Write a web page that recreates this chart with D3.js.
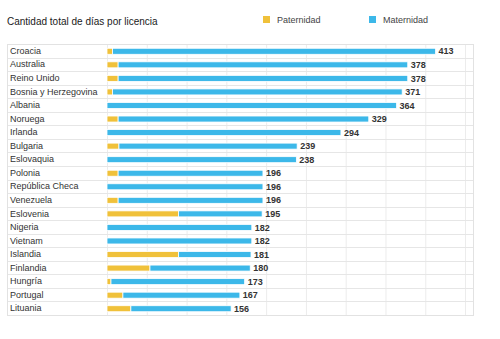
<!DOCTYPE html>
<html>
<head>
<meta charset="utf-8">
<script src="https://cdn.jsdelivr.net/npm/d3@7"></script>
<style>
  body { margin: 0; background: #fff; }
  svg { font-family: "Liberation Sans", Arial, sans-serif; }
  .grid line { stroke: #ececec; }
  .grid path { display: none; }
</style>
</head>
<body>
<div id="chart"></div>
<script>
// data
var paises = ["Croacia", "Australia", "Reino Unido", "Bosnia y Herzegovina", "Albania",
  "Noruega", "Irlanda", "Bulgaria", "Eslovaquia", "Polonia", "República Checa",
  "Venezuela", "Eslovenia", "Nigeria", "Vietnam", "Islandia", "Finlandia",
  "Hungría", "Portugal", "Lituania"]
var totales = [413, 378, 378, 371, 364, 329, 294, 239, 238, 196, 196, 196, 195, 182, 182, 181, 180, 173, 167, 156]
var paternidad = [7, 14, 14, 7, 0, 14, 0, 15, 0, 14, 0, 14, 90, 0, 0, 90, 54, 5, 20, 30]
var series = ["Paternidad", "Maternidad"]
var colores = ["#f0c13a", "#3cb8e9"]
var ticksX = [0, 50, 100, 150, 200, 250, 300, 350, 400, 450]

var W = 500, H = 339
var margin = {top: 44, right: 27, bottom: 24, left: 107}
var left0 = 7

var data = paises.map(function(p, i) {
  return {pais: p, total: totales[i], Paternidad: paternidad[i], Maternidad: totales[i] - paternidad[i]}
})

var svg = d3.select("#chart").append("svg")
  .attr("width", W)
  .attr("height", H)

var x = d3.scaleLinear()
  .domain([0, 460])
  .range([margin.left, W - margin.right])

var y = d3.scaleBand()
  .domain(paises)
  .range([margin.top, H - margin.bottom])

// vertical gridlines
svg.append("g")
  .attr("class", "grid")
  .attr("transform", "translate(0," + (H - margin.bottom) + ")")
  .call(d3.axisBottom(x)
    .tickValues(ticksX)
    .tickSize(-(H - margin.top - margin.bottom))
    .tickFormat(""))

// row lines
svg.append("g")
  .selectAll("line")
  .data(paises)
  .enter().append("line")
    .attr("x1", left0)
    .attr("x2", W - margin.right)
    .attr("y1", function(d) { return Math.round(y(d)) + 0.5 })
    .attr("y2", function(d) { return Math.round(y(d)) + 0.5 })
    .attr("stroke", "#e6e6e6")

// table border
svg.append("rect")
  .attr("x", left0 + 0.5)
  .attr("y", margin.top + 0.5)
  .attr("width", W - margin.right - left0)
  .attr("height", H - margin.top - margin.bottom)
  .attr("fill", "none")
  .attr("stroke", "#e2e2e2")

// stacked bars
var stack = d3.stack().keys(series)(data)
var barH = 6

svg.append("g")
  .selectAll("g")
  .data(stack)
  .enter().append("g")
    .attr("fill", function(d, i) { return colores[i] })
  .selectAll("rect")
  .data(function(d) { return d })
  .enter().append("rect")
    .attr("x", function(d) { return x(d[0]) })
    .attr("y", function(d) { return y(d.data.pais) + y.bandwidth() / 2 - barH / 2 + 0.5 })
    .attr("width", function(d) { return Math.max(0, x(d[1]) - x(d[0])) })
    .attr("height", barH)
    .attr("stroke", "#fff")
    .attr("stroke-width", function(d) { return d[1] > d[0] ? 0.8 : 0 })

// country labels
svg.append("g")
  .selectAll("text")
  .data(data)
  .enter().append("text")
    .attr("x", 10)
    .attr("y", function(d) { return y(d.pais) + y.bandwidth() / 2 })
    .attr("dy", "0.35em")
    .attr("font-size", 9)
    .attr("fill", "#333")
    .text(function(d) { return d.pais })

// totals
svg.append("g")
  .selectAll("text")
  .data(data)
  .enter().append("text")
    .attr("x", function(d) { return x(d.total) + 3 })
    .attr("y", function(d) { return y(d.pais) + y.bandwidth() / 2 + 0.5 })
    .attr("dy", "0.35em")
    .attr("font-size", 9)
    .attr("font-weight", "bold")
    .attr("fill", "#333")
    .text(function(d) { return d.total })

// title
svg.append("text")
  .attr("x", 7)
  .attr("y", 25)
  .attr("font-size", 10)
  .attr("fill", "#1a1a1a")
  .text("Cantidad total de días por licencia")

// legend
var legX = [263, 369]
var leg = svg.append("g")
  .selectAll("g")
  .data(series)
  .enter().append("g")
    .attr("transform", function(d, i) { return "translate(" + legX[i] + ",16)" })
leg.append("rect")
  .attr("width", 7)
  .attr("height", 7)
  .attr("fill", function(d, i) { return colores[i] })
leg.append("text")
  .attr("x", 14)
  .attr("y", 3.5)
  .attr("dy", "0.35em")
  .attr("font-size", 9)
  .attr("fill", "#444")
  .text(function(d) { return d })
</script>
</body>
</html>
